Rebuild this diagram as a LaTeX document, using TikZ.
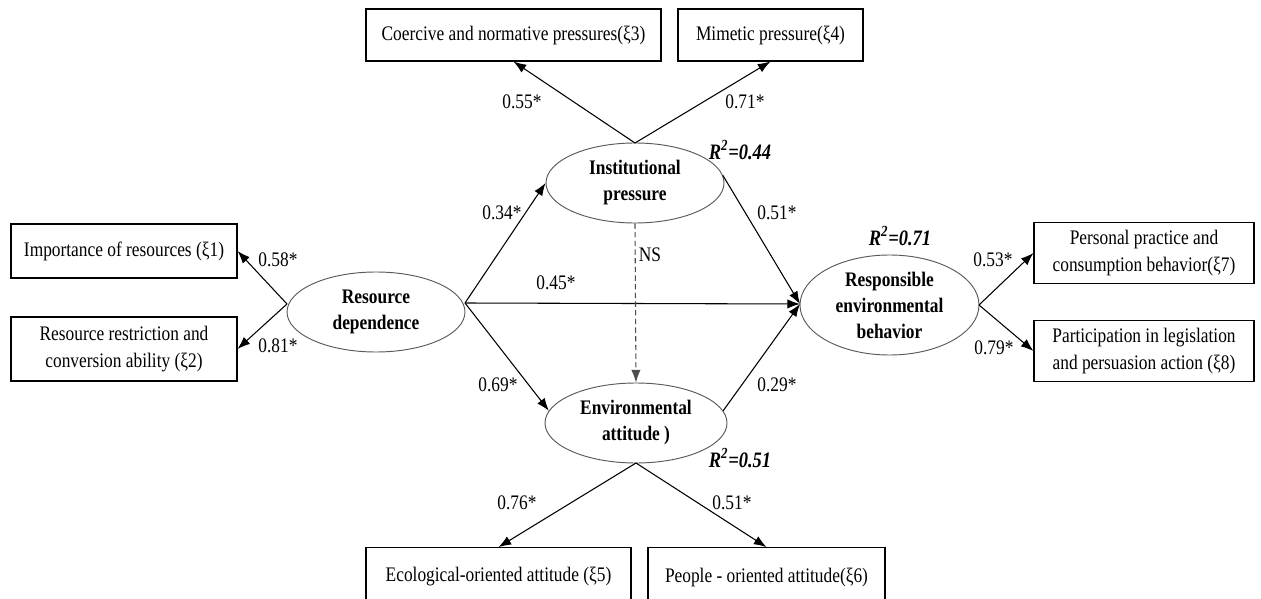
\documentclass[tikz,border=0pt]{standalone}
\usepackage{fontspec}
\setmainfont{Liberation Serif}[FakeStretch=0.84]
\usetikzlibrary{arrows.meta,shapes.geometric}
\begin{document}
\begin{tikzpicture}[x=0.75pt,y=-0.75pt,
  box/.style={draw,line width=0.8pt,rectangle,inner sep=0pt,align=center,
    font=\fontsize{15.5}{20}\selectfont},
  lat/.style={draw=black!65,line width=0.7pt,ellipse,inner sep=0pt,align=center,
    font=\fontsize{15.5}{19.5}\selectfont\bfseries},
  arr/.style={line width=0.8pt,-{Latex[length=9.5pt,width=7pt]}},
  coef/.style={font=\fontsize{15.5}{17}\selectfont,inner sep=1pt},
  rsq/.style={font=\fontsize{16.5}{18}\selectfont\bfseries\itshape,inner sep=1pt}]
\useasboundingbox (0,0) rectangle (1261,599);
\fill[white] (0,0) rectangle (1261,599);
% observed boxes
\node[box,minimum width=221.25pt,minimum height=39pt] (b3) at (513.5,35) {Coercive and normative pressures(ξ3)};
\node[box,minimum width=138.75pt,minimum height=39pt] (b4) at (770.5,35) {Mimetic pressure(ξ4)};
\node[box,minimum width=169.5pt,minimum height=40.5pt] (b1) at (124,251) {Importance of resources (ξ1)};
\node[box,minimum width=169.5pt,minimum height=48pt] (b2) at (124,349) {Resource restriction and\\conversion ability (ξ2)};
\node[box,minimum width=165pt,minimum height=45.75pt] (b7) at (1144,253) {Personal practice and\\consumption behavior(ξ7)};
\node[box,minimum width=165pt,minimum height=45.75pt] (b8) at (1144,351) {Participation in legislation\\and persuasion action (ξ8)};
\node[box,minimum width=198.75pt,minimum height=44pt] (b5) at (498.5,577) {Ecological-oriented attitude (ξ5)};
\node[box,minimum width=177.75pt,minimum height=44pt] (b6) at (766.5,577) {People - oriented attitude(ξ6)};
% latent ellipses
\node[lat,minimum width=133.5pt,minimum height=60pt] (ip) at (635,183) {Institutional\\pressure};
\node[lat,minimum width=133.5pt,minimum height=60pt] (rd) at (376,312) {Resource\\dependence};
\node[lat,minimum width=136.5pt,minimum height=60pt] (ea) at (636,423) {Environmental\\attitude )};
\node[lat,minimum width=134.25pt,minimum height=75pt] (reb) at (889.5,305) {Responsible\\environmental\\behavior};
% helper coordinates
\coordinate (rdr) at (465,303);
\coordinate (rdl) at (287,304);
\coordinate (rebl) at (800,304);
\coordinate (rebr) at (979,305);
\coordinate (ipt) at (635,143);
\coordinate (eab) at (636,463);
% connectors
\draw[arr] (ipt) -- (b3.south);
\draw[arr] (ipt) -- (b4.south);
\draw[arr] (rdl) -- (b1.east);
\draw[arr] (rdl) -- (b2.east);
\draw[arr] (rdr) -- (ip.west);
\draw[arr] (rdr) -- (rebl);
\draw[arr] (rdr) -- (ea.172);
\draw[arr] (ip.5) -- (rebl);
\draw[arr] (ea.8) -- (rebl);
\draw[arr,dashed,draw=black!70,dash pattern=on 4pt off 2.5pt] (ip.south) -- (ea.north);
\draw[arr] (rebr) -- (b7.west);
\draw[arr] (rebr) -- (b8.west);
\draw[arr] (eab) -- (b5.north);
\draw[arr] (eab) -- (b6.north);
% coefficients
\node[coef] (c1) at (522,102) {0.55*};
\node[coef] (c2) at (745,102) {0.71*};
\node[coef] (c3) at (502,213) {0.34*};
\node[coef] (c4) at (777,213) {0.51*};
\node[coef] (c5) at (650,255) {NS};
\node[coef] (c6) at (556,283) {0.45*};
\node[coef] (c7) at (278,260) {0.58*};
\node[coef] (c8) at (278,346) {0.81*};
\node[coef] (c9) at (993,260) {0.53*};
\node[coef] (c10) at (994,348) {0.79*};
\node[coef] (c11) at (498,385) {0.69*};
\node[coef] (c12) at (777,385) {0.29*};
\node[coef] (c13) at (517,503) {0.76*};
\node[coef] (c14) at (732,503) {0.51*};
\node[rsq] (r1) at (740,150) {R\textsuperscript{2}=0.44};
\node[rsq] (r2) at (900,236) {R\textsuperscript{2}=0.71};
\node[rsq] (r3) at (740,458) {R\textsuperscript{2}=0.51};
\end{tikzpicture}
\end{document}
